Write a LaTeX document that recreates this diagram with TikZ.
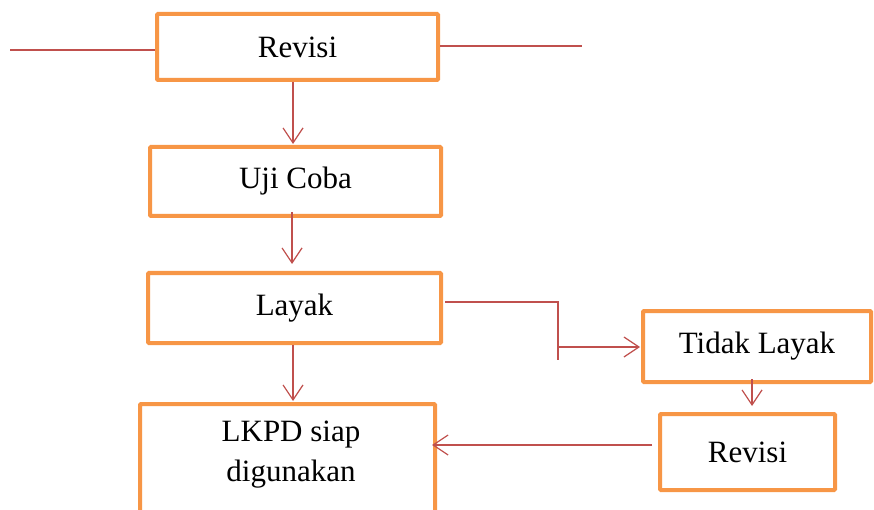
\documentclass[tikz,border=0pt]{standalone}
\usepackage{fontspec}
\setmainfont{Liberation Serif}
\usetikzlibrary{arrows.meta}
\definecolor{boxor}{HTML}{F79646}
\definecolor{lnred}{HTML}{C0504D}
\begin{document}
\begin{tikzpicture}[x=1pt,y=-1pt,
  box/.style={draw=boxor,line width=4pt,fill=white,rounded corners=1pt,rectangle,inner sep=0pt,
    font=\fontsize{31}{40}\selectfont},
  txt/.style={inner sep=0pt,align=center,font=\fontsize{31}{40}\selectfont},
  conn/.style={draw=lnred,line width=1.2pt},
  arr/.style={conn,-{Straight Barb[length=15pt,width=20pt,line width=1.2pt]},shorten >=1pt}]
\useasboundingbox (0,0) rectangle (874,510);
\clip (0,0) rectangle (874,510);
\node[box,minimum width=281,minimum height=66] (rev1) at (297.5,47) {Revisi};
\node[box,minimum width=291,minimum height=69] (uji) at (295.5,181.5) {Uji Coba};
\node[box,minimum width=293,minimum height=70] (layak) at (294.5,308) {Layak};
\node[box,minimum width=295,minimum height=140,anchor=north] (lkpd) at (287.5,402) {};
\node[txt] (lkpdtxt) at (291,455) {LKPD siap\\digunakan};
\node[box,minimum width=228,minimum height=71] (tl) at (757,346.5) {Tidak Layak};
\node[box,minimum width=175,minimum height=76] (rev2) at (747.5,452) {Revisi};
\coordinate (lend) at (10,50);
\coordinate (rend) at (582,46);
\coordinate (j2) at (558,360);
\coordinate (j3) at (558,347);
% side lines of top Revisi
\draw[conn] (lend) -- (lend -| rev1.west);
\draw[conn] ([yshift=1pt]rev1.east) -- (rend);
% vertical arrows
\draw[arr] ([xshift=-4.5pt]rev1.south) -- ([xshift=-4.5pt]rev1.south |- uji.north);
\draw[arr] ([xshift=-3.5pt,yshift=6pt]uji.south) -- ([xshift=-3.5pt,yshift=6pt]uji.south |- layak.north);
\draw[arr] ([xshift=-1.5pt]layak.south) -- ([xshift=-1.5pt]layak.south |- lkpd.north);
% branch to Tidak Layak
\draw[conn] ([yshift=6pt,xshift=2pt]layak.east) -| (j2);
\draw[arr] (j3) -- (j3 -| tl.west);
\draw[arr] ([xshift=-5pt,yshift=5pt]tl.south) -- ([xshift=-5pt,yshift=5pt]tl.south |- rev2.north);
% Revisi back to LKPD
\draw[arr] ([yshift=7pt,xshift=-6pt]rev2.west) -- ([yshift=7pt,xshift=-6pt]rev2.west -| lkpd.east);
\end{tikzpicture}
\end{document}
